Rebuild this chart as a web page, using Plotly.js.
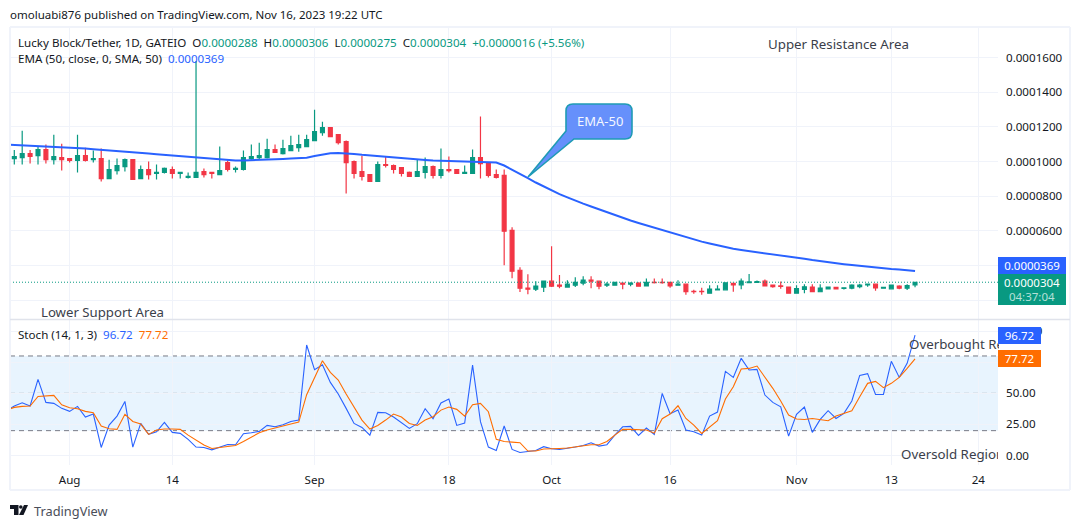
<!DOCTYPE html>
<html><head><meta charset="utf-8">
<script src="https://cdn.plot.ly/plotly-3.0.1.min.js"></script>
<style>html,body{margin:0;padding:0;background:#fff}#c{width:1080px;height:528px}</style>
</head><body><div id="c"></div>
<script>
// Prices are in units of 0.0000001 USDT
const open_ = [1017,1023,1046,1034,1069,1011,1023,1017,1006,1034,1011,1017,902,948,971,1011,902,954,931,937,954,931,908,908,942,937,925,994,954,954,1017,1023,1023,1069,1046,1063,1080,1086,1121,1166,1195,1155,1115,1000,942,925,885,983,977,965,937,914,937,971,920,954,954,931,931,1023,994,925,920,603,373,270,264,276,310,287,276,287,299,316,310,287,287,299,293,299,283,303,303,303,287,293,251,251,241,260,260,297,289,301,303,310,287,283,276,241,262,276,249,266,274,268,270,278,289,293,270,266,282,270,288];
const high = [1067,1178,1067,1088,1098,1155,1103,1017,1155,1080,1063,1075,1011,1017,1017,1011,977,1000,983,965,971,937,937,1580,960,937,1086,1006,971,1063,1098,1109,1132,1098,1126,1149,1155,1155,1299,1230,1195,1155,1121,1006,1034,925,1000,1029,983,965,942,1011,1023,977,1075,1029,954,977,1069,1259,994,954,954,621,391,350,310,310,511,345,316,333,339,339,310,304,304,299,304,304,326,326,326,303,316,293,260,272,287,287,301,297,326,351,314,320,289,308,278,287,293,293,293,278,278,274,293,295,293,293,278,289,287,293,306];
const low = [983,983,988,983,988,983,948,994,937,1000,994,885,902,925,942,897,902,897,897,931,902,902,902,908,908,902,925,942,937,948,1011,1011,1017,1052,1040,1063,1057,1086,1121,1149,1143,1098,816,902,891,885,885,965,931,914,914,914,902,902,902,937,931,931,931,902,908,902,402,327,247,235,253,247,276,270,276,276,287,270,264,276,287,264,281,281,283,297,295,272,287,232,237,232,237,260,260,249,264,301,301,283,272,266,237,241,241,247,247,264,264,262,264,270,278,255,268,264,264,259,275];
const close_ = [1029,1046,1029,1069,1011,1029,1011,1006,1034,1006,1017,902,954,977,1011,897,954,925,937,960,931,937,914,937,925,931,948,954,960,1023,1029,1034,1069,1052,1075,1092,1098,1126,1172,1195,1143,1109,994,931,914,885,983,977,954,931,914,942,971,920,954,948,931,937,1023,988,920,908,598,368,270,264,281,310,281,281,293,304,316,310,281,293,304,293,299,281,303,301,301,283,293,249,249,249,264,264,301,289,310,306,308,283,278,280,241,268,278,249,270,276,266,272,287,287,293,272,274,287,270,285,304];
// EMA and stochastic series begin one day before the first visible candle
const ema50 = [1098,1096,1094,1092,1090,1087,1085,1083,1081,1079,1075,1071,1068,1065,1062,1058,1054,1050,1046,1042,1038,1034,1030,1026,1022,1018,1014,1011,1008,1006,1006,1007,1009,1011,1013,1015,1017,1019,1022,1032,1042,1048,1049,1048,1044,1039,1035,1030,1025,1021,1018,1014,1011,1009,1006,1004,1002,1001,999,998,997,995,994,977,954,929,904,879,856,833,812,793,774,757,741,724,707,692,674,660,646,632,619,606,594,580,566,551,538,527,516,506,497,490,484,478,473,467,460,453,446,439,432,425,419,413,408,403,398,393,389,385,381,378,374,369];
const stochK = [36.0,39.8,42.4,39.8,61.2,42.7,41.9,37.9,35.5,39.5,30.9,33.3,6.5,24.5,31.7,43.5,6.8,25.8,17.0,19.1,26.6,18.6,17.8,13.0,6.8,6.5,4.6,6.8,8.9,8.7,17.5,18.3,19.4,24.2,23.1,24.7,27.4,28.5,88.8,69.0,73.0,58.8,49.4,37.9,25.8,22.6,16.4,34.7,34.4,30.9,26.1,21.8,25.6,37.6,29.6,42.2,45.4,24.2,26.1,72.7,27.2,6.8,4.1,23.7,4.9,2.5,3.3,4.1,7.1,5.4,4.9,5.7,6.8,8.1,10.3,7.6,8.7,16.4,23.1,23.4,16.2,22.1,17.0,49.9,33.6,36.5,20.5,19.1,16.4,31.7,34.9,67.6,62.8,78.1,68.7,69.2,48.6,42.7,39.2,15.6,33.1,39.0,18.6,29.0,36.0,29.8,33.9,43.8,64.4,65.8,49.1,49.1,75.7,62.8,74.1,96.72];
const stochD = [36.5,38.7,39.5,39.8,47.5,47.8,48.3,40.8,38.4,37.6,35.5,34.4,23.7,21.5,21.0,33.1,27.4,25.3,17.0,20.5,21.3,21.3,21.0,16.4,12.2,8.4,5.7,6.5,7.1,8.1,11.3,15.1,18.3,20.5,21.8,23.7,25.3,26.9,48.9,62.3,76.2,66.8,60.7,49.4,38.7,28.5,21.3,24.2,28.5,33.3,30.9,25.8,24.2,28.5,31.2,36.5,39.0,37.1,31.7,40.8,41.9,35.2,13.0,11.3,10.8,10.3,3.6,3.6,5.2,5.7,5.7,6.0,6.8,7.3,8.7,8.7,11.3,16.4,21.0,21.0,21.0,20.5,18.0,29.6,33.3,40.0,29.8,24.5,17.8,23.1,28.0,45.4,55.3,69.5,70.0,71.9,62.8,54.0,43.8,32.5,29.3,29.0,29.8,28.8,28.0,31.7,33.9,36.0,47.2,58.0,59.6,54.5,58.0,62.8,70.0,77.72];
const firstDay = '2023-07-25';
const xTickDates = ['2023-08-01','2023-08-14','2023-09-01','2023-09-18','2023-10-01','2023-10-16','2023-11-01','2023-11-13','2023-11-24'];
const xTickText = ['Aug','14','Sep','18','Oct','16','Nov','13','24'];
const priceTicks = [200,400,600,800,1000,1200,1400,1600];
const priceTickText = ['','','0.0000600','0.0000800','0.0001000','0.0001200','0.0001400','0.0001600'];
const stochTicks = [0,25,50,75,100];
const stochTickText = ['0.00','25.00','50.00','','100.00'];
const lastClose = 304;

const dayMs = 86400000, t0 = Date.parse(firstDay + 'T00:00:00Z');
const iso = ms => new Date(ms).toISOString().slice(0, 19).replace('T', ' ');
const dates = open_.map((_, i) => iso(t0 + i * dayMs));
const lineDates = stochK.map((_, i) => iso(t0 + (i - 1) * dayMs));

const GREEN = '#089981', RED = '#f23645', BLUE = '#2962ff', ORANGE = '#ff6d00';
const TXT = '#131722', GRID = '#f0f3fa', FONT = '"Noto Sans","Liberation Sans",sans-serif';
const W = 1080, H = 528;
const px = x => x / W, py = y => 1 - y / H;

const data = [
  {type:'candlestick', x:dates, open:open_, high:high, low:low, close:close_, xaxis:'x', yaxis:'y',
   increasing:{line:{color:GREEN,width:1.2},fillcolor:GREEN},
   decreasing:{line:{color:RED,width:1.2},fillcolor:RED}, whiskerwidth:0, showlegend:false, hoverinfo:'skip'},
  {type:'scatter', mode:'lines', x:lineDates, y:ema50, xaxis:'x', yaxis:'y', line:{color:BLUE,width:2}, showlegend:false, hoverinfo:'skip'},
  {type:'scatter', mode:'lines', x:lineDates, y:stochK, xaxis:'x', yaxis:'y2', line:{color:BLUE,width:1.1}, showlegend:false, hoverinfo:'skip'},
  {type:'scatter', mode:'lines', x:lineDates, y:stochD, xaxis:'x', yaxis:'y2', line:{color:ORANGE,width:1.1}, showlegend:false, hoverinfo:'skip'}
];

function paperPath(points, opts){
  const d = points.map(p => p[0] + (p.length>3 ? px(p[1])+','+py(p[2])+' '+px(p[3])+','+py(p[4]) : (p.length>1 ? px(p[1])+','+py(p[2]) : ''))).join(' ');
  return Object.assign({type:'path',xref:'paper',yref:'paper',path:d}, opts);
}
const frame = {color:'#f0f3fa',width:2};
const shapes = [
  // stochastic band and levels
  {type:'rect',xref:'x domain',yref:'y2',x0:0,x1:1,y0:20,y1:80,fillcolor:'rgba(33,150,243,0.1)',line:{width:0},layer:'below'},
  {type:'line',xref:'x domain',yref:'y2',x0:0,x1:1,y0:80,y1:80,line:{color:'#787b86',width:1,dash:'5px,4px'},layer:'below'},
  {type:'line',xref:'x domain',yref:'y2',x0:0,x1:1,y0:50,y1:50,line:{color:'#a6a9b2',width:1,dash:'5px,4px'},layer:'below'},
  {type:'line',xref:'x domain',yref:'y2',x0:0,x1:1,y0:20,y1:20,line:{color:'#787b86',width:1,dash:'5px,4px'},layer:'below'},
  // last price dotted line
  {type:'line',xref:'x domain',yref:'y',x0:0,x1:1,y0:lastClose,y1:lastClose,line:{color:GREEN,width:1,dash:'1px,2px'}},
  // frame
  {type:'line',xref:'paper',yref:'paper',x0:px(10),x1:px(10),y0:py(27),y1:py(490),line:frame},
  {type:'line',xref:'paper',yref:'paper',x0:px(1070),x1:px(1070),y0:py(27),y1:py(490),line:frame},
  {type:'line',xref:'paper',yref:'paper',x0:px(10),x1:px(1070),y0:py(27),y1:py(27),line:frame},
  {type:'line',xref:'paper',yref:'paper',x0:px(10),x1:px(1070),y0:py(490),y1:py(490),line:frame},
  {type:'line',xref:'paper',yref:'paper',x0:px(10),x1:px(1070),y0:py(319.5),y1:py(319.5),line:{color:'#e0e3eb',width:1.5}},
  // EMA-50 callout
  paperPath([['M',573,104],['L',625,104],['Q',632,104,632,111],['L',632,132],['Q',632,139,625,139],['L',574,139],['L',528,177],['L',566,131],['L',566,111],['Q',566,104,573,104],['Z']],
    {fillcolor:'#6690fb',line:{color:'#1f9bb5',width:1.6}}),
  // TradingView mark
  paperPath([['M',10,505],['L',18.5,505],['L',18.5,515],['L',14,515],['L',14,509],['L',10,509],['Z']],{fillcolor:'#131722',line:{width:0}}),
  paperPath([['M',24,505],['L',28,505],['L',23.5,515],['L',19,515],['Z']],{fillcolor:'#131722',line:{width:0}}),
  {type:'circle',xref:'paper',yref:'paper',x0:px(19),x1:px(22.6),y0:py(505.2),y1:py(508.8),fillcolor:'#131722',line:{width:0}}
];

function note(text,x,y,size,color,extra){
  return Object.assign({xref:'paper',yref:'paper',x:px(x),y:py(y),xanchor:'left',yanchor:'middle',showarrow:false,align:'left',
    text:text,font:{family:FONT,size:size,color:color},borderpad:0},extra||{});
}
function badge(lines,x,y0,w,h,bg){
  return {xref:'paper',yref:'paper',x:px(x),y:py(y0),xanchor:'left',yanchor:'top',showarrow:false,align:'center',text:lines,
    font:{family:FONT,size:11.5,color:'#ffffff'},bgcolor:bg,width:w,height:h,borderpad:0,borderwidth:0};
}
const g = s => '<span style="color:'+GREEN+'">'+s+'</span>';
const annotations = [
  note('omoluabi876 published on TradingView.com, Nov 16, 2023 19:22 UTC',8.5,14.5,11.5,TXT),
  note('Lucky Block/Tether, 1D, GATEIO  O'+g('0.0000288')+'  H'+g('0.0000306')+'  L'+g('0.0000275')+'  C'+g('0.0000304')+'  '+g('+0.0000016 (+5.56%)'),17,42,11.6,TXT),
  note('EMA (50, close, 0, SMA, 50)  <span style="color:'+BLUE+'">0.0000369</span>',17,59,11.6,TXT),
  note('Upper Resistance Area',766.5,44,13.3,'#3a3e4a'),
  note('Lower Support Area',39.5,312,13.2,'#3a3e4a'),
  note('Stoch (14, 1, 3)  <span style="color:'+BLUE+'">96.72</span>  <span style="color:'+ORANGE+'">77.72</span>',17,334.5,11.6,TXT),
  note('Overbought Region',908,344,13.3,'#3a3e4a',{width:90}),
  note('Oversold Region',900,454,13.3,'#3a3e4a',{width:97}),
  note('EMA-50',576,120.5,13,'#f4f7ff'),
  note('TradingView',33,510.5,12.8,'#4a4e59'),
  badge('0.0000369',998,257,68,17,BLUE),
  badge('0.0000304<br><span style="color:#b5e0d8">04:37:04</span>',998,274,68,31,GREEN),
  badge('96.72',998,327,43,17,BLUE),
  badge('77.72',998,350,43,17,ORANGE)
];

const layout = {
  width:W,height:H,margin:{l:0,r:0,t:0,b:0},paper_bgcolor:'#fff',plot_bgcolor:'#fff',showlegend:false,
  font:{family:FONT,size:11.5,color:TXT},
  xaxis:{type:'date',domain:[px(10),px(998)],anchor:'y2',range:['2023-07-24 10:56:00','2023-11-26 12:00:00'],
    rangeslider:{visible:false},tickmode:'array',tickvals:xTickDates,ticktext:xTickText,tickangle:0,
    showgrid:true,gridcolor:GRID,gridwidth:1,zeroline:false,showline:false,ticks:'',ticklabelstandoff:6,tickfont:{size:11.6,color:TXT}},
  yaxis:{domain:[py(319),py(28)],anchor:'x',side:'right',range:[92,1770],tickmode:'array',tickvals:priceTicks,ticktext:priceTickText,
    showgrid:true,gridcolor:GRID,gridwidth:1,zeroline:false,showline:false,ticks:'',ticklabelstandoff:7,tickfont:{size:11.6,color:TXT}},
  yaxis2:{domain:[py(465),py(320)],anchor:'x',side:'right',range:[-7.6,108.9],tickmode:'array',tickvals:stochTicks,ticktext:stochTickText,
    showgrid:true,gridcolor:GRID,gridwidth:1,zeroline:false,showline:false,ticks:'',ticklabelstandoff:7,tickfont:{size:11.6,color:TXT}},
  shapes:shapes,annotations:annotations
};
Plotly.newPlot('c',data,layout,{displayModeBar:false,staticPlot:true});
</script></body></html>
